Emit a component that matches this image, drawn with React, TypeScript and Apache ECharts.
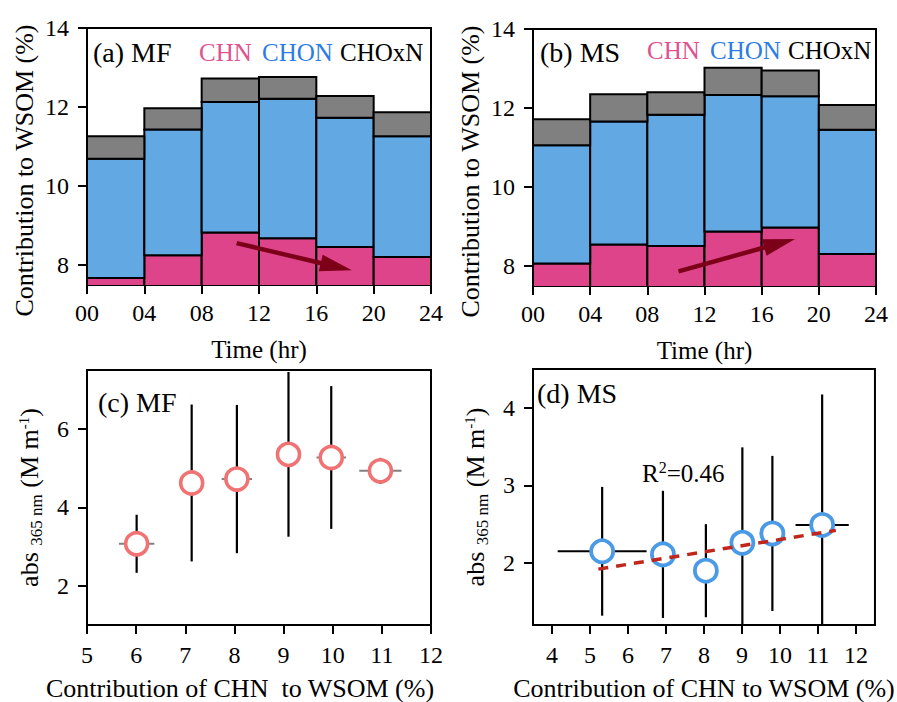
import React, { useEffect, useRef } from 'react';
import * as echarts from 'echarts';

// ---------- data ----------
const binEdges = [0, 4, 8, 12, 16, 20, 24];
const hourTicks = ['00', '04', '08', '12', '16', '20', '24'];

// (a) MF contributions (%) per 4-h bin
const mfCHN = [7.68, 8.25, 8.83, 8.68, 8.46, 8.21];
const mfCHON = [3.01, 3.18, 3.3, 3.53, 3.27, 3.05];
const mfCHOxN = [0.57, 0.54, 0.59, 0.55, 0.55, 0.61];
// (b) MS
const msCHN = [8.07, 8.55, 8.51, 8.88, 8.98, 8.31];
const msCHON = [2.99, 3.11, 3.32, 3.45, 3.32, 3.14];
const msCHOxN = [0.66, 0.69, 0.57, 0.69, 0.65, 0.63];

// arrows [x1, y1, x2, y2] (hr, %)
const mfArrow = [10.44, 8.56, 18.48, 7.87];
const msArrow = [10.18, 7.87, 18.34, 8.69];

// (c) MF scatter
const mfX = [6.01, 7.13, 8.05, 9.1, 9.97, 10.97];
const mfY = [3.07, 4.62, 4.72, 5.35, 5.27, 4.93];
const mfXErr = [0.36, 0.23, 0.31, 0.2, 0.3, 0.43];
const mfYErr = [0.74, 2.0, 1.89, 2.1, 1.82, 0.33];

// (d) MS scatter
const msX = [5.32, 6.92, 8.05, 9.01, 9.8, 11.11];
const msY = [2.15, 2.11, 1.9, 2.26, 2.38, 2.49];
const msXErr = [1.17, 0.3, 0.27, 0.26, 0.33, 0.7];
const msYErr = [0.83, 0.82, 0.6, 1.23, 1.0, 1.68];
const msFit = [[5.22, 1.92], [11.47, 2.42]];
const msR2 = '0.46';

// ---------- styles ----------
const FONT = 'Liberation Serif';
const C_CHN = '#de4489';
const C_CHON = '#62a9e4';
const C_CHOXN = '#808080';
const T_CHN = '#e0528f';
const T_CHON = '#2d7ce6';
const ARROW = '#7d0019';

function stackData(edges: number[], base: number[] | null, vals: number[]) {
  return vals.map((v, i) => {
    const b = base ? base[i] : 0;
    return [edges[i], edges[i + 1], b, b + v];
  });
}
function cum(a: number[], b: number[]) {
  return a.map((v, i) => v + b[i]);
}

const rectRender = (color: string) => (params: any, api: any) => {
  const p0 = api.coord([api.value(0), api.value(3)]);
  const p1 = api.coord([api.value(1), api.value(2)]);
  return {
    type: 'rect',
    shape: { x: p0[0], y: p0[1], width: p1[0] - p0[0], height: p1[1] - p0[1] },
    style: { fill: color, stroke: '#000', lineWidth: 2 },
  };
};

const arrowRender = (params: any, api: any) => {
  const a = api.coord([api.value(0), api.value(1)]);
  const b = api.coord([api.value(2), api.value(3)]);
  const dx = b[0] - a[0];
  const dy = b[1] - a[1];
  const L = Math.hypot(dx, dy);
  const ux = dx / L;
  const uy = dy / L;
  const headLen = 32;
  const headW = 8.5;
  const bx = b[0] - ux * headLen;
  const by = b[1] - uy * headLen;
  return {
    type: 'group',
    children: [
      {
        type: 'line',
        shape: { x1: a[0], y1: a[1], x2: bx + ux * 3, y2: by + uy * 3 },
        style: { stroke: ARROW, lineWidth: 4.5 },
      },
      {
        type: 'polygon',
        shape: {
          points: [
            [b[0], b[1]],
            [bx - uy * headW, by + ux * headW],
            [bx + uy * headW, by - ux * headW],
          ],
        },
        style: { fill: ARROW },
      },
    ],
  };
};

const errRender = (hColor: string) => (params: any, api: any) => {
  const x = api.value(0);
  const y = api.value(1);
  const xe = api.value(2);
  const ye = api.value(3);
  const v0 = api.coord([x, y - ye]);
  const v1 = api.coord([x, y + ye]);
  const h0 = api.coord([x - xe, y]);
  const h1 = api.coord([x + xe, y]);
  return {
    type: 'group',
    children: [
      { type: 'line', shape: { x1: v0[0], y1: v0[1], x2: v1[0], y2: v1[1] }, style: { stroke: '#000', lineWidth: 2.2 } },
      { type: 'line', shape: { x1: h0[0], y1: h0[1], x2: h1[0], y2: h1[1] }, style: { stroke: hColor, lineWidth: 2 } },
    ],
  };
};

const axisCommon = {
  axisLine: { show: true, onZero: false, lineStyle: { color: '#000', width: 2 } },
  axisTick: { show: true, inside: false, length: 9, lineStyle: { color: '#000', width: 2 } },
  splitLine: { show: false },
  nameLocation: 'middle',
};
const labelCommon = { color: '#000', fontSize: 24, fontFamily: FONT };
const nameStyle = { color: '#000', fontSize: 26, fontFamily: FONT };

const absRich = {
  n: { fontSize: 26, fontFamily: FONT, color: '#000' },
  sub: { fontSize: 17, fontFamily: FONT, color: '#000', padding: [14, 0, 0, 0] },
  sup: { fontSize: 15, fontFamily: FONT, color: '#000', padding: [0, 0, 12, 0] },
};
const absName = '{n|abs }{sub|365 nm}{n| (M m}{sup|-1}{n|)}';

function textEl(x: number, y: number, text: string, size: number, color = '#000', rich?: any) {
  return {
    type: 'text',
    x,
    y,
    silent: true,
    style: { text, fill: color, fontSize: size, fontFamily: FONT, verticalAlign: 'middle', rich },
  };
}

export default function App() {
  const ref = useRef<HTMLDivElement>(null);
  useEffect(() => {
    document.body.style.margin = '0';
    const chart = echarts.init(ref.current!, null, { renderer: 'svg' });

    const mfTopBase = cum(mfCHN, mfCHON);
    const msTopBase = cum(msCHN, msCHON);

    const option: any = {
      animation: false,
      textStyle: { fontFamily: FONT },
      grid: [
        { left: 87, top: 28, width: 344, height: 257, show: true, borderColor: '#000', borderWidth: 2 },
        { left: 533, top: 29, width: 343, height: 257, show: true, borderColor: '#000', borderWidth: 2 },
        { left: 87, top: 370, width: 344, height: 256, show: true, borderColor: '#000', borderWidth: 2 },
        { left: 533, top: 369, width: 343, height: 256, show: true, borderColor: '#000', borderWidth: 2 },
      ],
      xAxis: [0, 1].map((g) => ({
        ...axisCommon,
        type: 'value',
        gridIndex: g,
        min: 0,
        max: 24,
        interval: 4,
        name: 'Time (hr)',
        nameGap: 52,
        nameTextStyle: { ...nameStyle, fontSize: 25 },
        axisLabel: { ...labelCommon, margin: 16, formatter: (v: number) => hourTicks[binEdges.indexOf(v)] ?? '' },
      })).concat([
        {
          ...axisCommon,
          type: 'value',
          gridIndex: 2,
          min: 5,
          max: 12,
          interval: 1,
          name: 'Contribution of CHN  to WSOM (%)',
          nameGap: 50,
          nameTextStyle: { ...nameStyle, padding: [0, 38, 0, 0] },
          axisLabel: { ...labelCommon, margin: 18 },
        },
        {
          ...axisCommon,
          type: 'value',
          gridIndex: 3,
          min: 3.5,
          max: 12.5,
          name: 'Contribution of CHN to WSOM (%)',
          nameGap: 50,
          nameTextStyle: { ...nameStyle },
          axisTick: { ...axisCommon.axisTick, customValues: [4, 5, 6, 7, 8, 9, 10, 11, 12] },
          axisLabel: { ...labelCommon, margin: 18, customValues: [4, 5, 6, 7, 8, 9, 10, 11, 12] },
        },
      ] as any),
      yAxis: [0, 1].map((g) => ({
        ...axisCommon,
        type: 'value',
        gridIndex: g,
        min: 7.5,
        max: 14,
        name: 'Contribution to WSOM (%)',
        nameGap: 50,
        nameRotate: 90,
        nameTextStyle: { ...nameStyle, padding: [0, 28, 0, 0] },
        axisTick: { ...axisCommon.axisTick, customValues: [8, 10, 12, 14] },
        axisLabel: { ...labelCommon, margin: 18, customValues: [8, 10, 12, 14] },
      })).concat([
        {
          ...axisCommon,
          type: 'value',
          gridIndex: 2,
          min: 1,
          max: 7.5,
          name: absName,
          nameGap: 42,
          nameRotate: 90,
          nameTextStyle: { ...nameStyle, rich: absRich },
          axisTick: { ...axisCommon.axisTick, customValues: [2, 4, 6] },
          axisLabel: { ...labelCommon, margin: 18, customValues: [2, 4, 6] },
        },
        {
          ...axisCommon,
          type: 'value',
          gridIndex: 3,
          min: 1.2,
          max: 4.5,
          name: absName,
          nameGap: 42,
          nameRotate: 90,
          nameTextStyle: { ...nameStyle, rich: absRich },
          axisTick: { ...axisCommon.axisTick, customValues: [2, 3, 4] },
          axisLabel: { ...labelCommon, margin: 18, customValues: [2, 3, 4] },
        },
      ] as any),
      series: [
        // (a)
        { type: 'custom', xAxisIndex: 0, yAxisIndex: 0, clip: true, renderItem: rectRender(C_CHN), data: stackData(binEdges, null, mfCHN) },
        { type: 'custom', xAxisIndex: 0, yAxisIndex: 0, clip: true, renderItem: rectRender(C_CHON), data: stackData(binEdges, mfCHN, mfCHON) },
        { type: 'custom', xAxisIndex: 0, yAxisIndex: 0, clip: true, renderItem: rectRender(C_CHOXN), data: stackData(binEdges, mfTopBase, mfCHOxN) },
        { type: 'custom', xAxisIndex: 0, yAxisIndex: 0, renderItem: arrowRender, data: [mfArrow], z: 5 },
        // (b)
        { type: 'custom', xAxisIndex: 1, yAxisIndex: 1, clip: true, renderItem: rectRender(C_CHN), data: stackData(binEdges, null, msCHN) },
        { type: 'custom', xAxisIndex: 1, yAxisIndex: 1, clip: true, renderItem: rectRender(C_CHON), data: stackData(binEdges, msCHN, msCHON) },
        { type: 'custom', xAxisIndex: 1, yAxisIndex: 1, clip: true, renderItem: rectRender(C_CHOXN), data: stackData(binEdges, msTopBase, msCHOxN) },
        { type: 'custom', xAxisIndex: 1, yAxisIndex: 1, renderItem: arrowRender, data: [msArrow], z: 5 },
        // (c)
        {
          type: 'custom', xAxisIndex: 2, yAxisIndex: 2, clip: true, renderItem: errRender('#808080'),
          data: mfX.map((x, i) => [x, mfY[i], mfXErr[i], mfYErr[i]]),
        },
        {
          type: 'scatter', xAxisIndex: 2, yAxisIndex: 2, symbol: 'circle', symbolSize: 22, z: 3,
          itemStyle: { color: '#fff', borderColor: '#f07272', borderWidth: 3.6, opacity: 1 },
          data: mfX.map((x, i) => [x, mfY[i]]),
        },
        // (d)
        {
          type: 'custom', xAxisIndex: 3, yAxisIndex: 3, clip: true, renderItem: errRender('#000'),
          data: msX.map((x, i) => [x, msY[i], msXErr[i], msYErr[i]]),
        },
        {
          type: 'scatter', xAxisIndex: 3, yAxisIndex: 3, symbol: 'circle', symbolSize: 22, z: 3,
          itemStyle: { color: '#fff', borderColor: '#4a9ae6', borderWidth: 3.8, opacity: 1 },
          data: msX.map((x, i) => [x, msY[i]]),
        },
        {
          type: 'line', xAxisIndex: 3, yAxisIndex: 3, symbol: 'none', z: 4,
          lineStyle: { color: '#c0261c', width: 3.5, type: [10, 8] },
          data: msFit,
        },
      ],
      graphic: [
        textEl(93, 52, '(a) MF', 28),
        textEl(199, 52, 'CHN', 25, T_CHN),
        textEl(262, 52, 'CHON', 25, T_CHON),
        textEl(340, 52, 'CHOxN', 25),
        textEl(540, 52, '(b) MS', 28),
        textEl(647, 50, 'CHN', 25, T_CHN),
        textEl(710, 50, 'CHON', 25, T_CHON),
        textEl(788, 50, 'CHOxN', 25),
        textEl(98, 402, '(c) MF', 28),
        textEl(537, 393, '(d) MS', 28),
        textEl(642, 473, '{n|R}{sup|2}{n|=' + msR2 + '}', 25, '#000', {
          n: { fontSize: 25, fontFamily: FONT, fill: '#000' },
          sup: { fontSize: 16, fontFamily: FONT, fill: '#000', padding: [0, 0, 11, 0] },
        }),
      ],
    };
    chart.setOption(option);
    return () => chart.dispose();
  }, []);
  return <div ref={ref} style={{ width: 897, height: 702 }} />;
}
